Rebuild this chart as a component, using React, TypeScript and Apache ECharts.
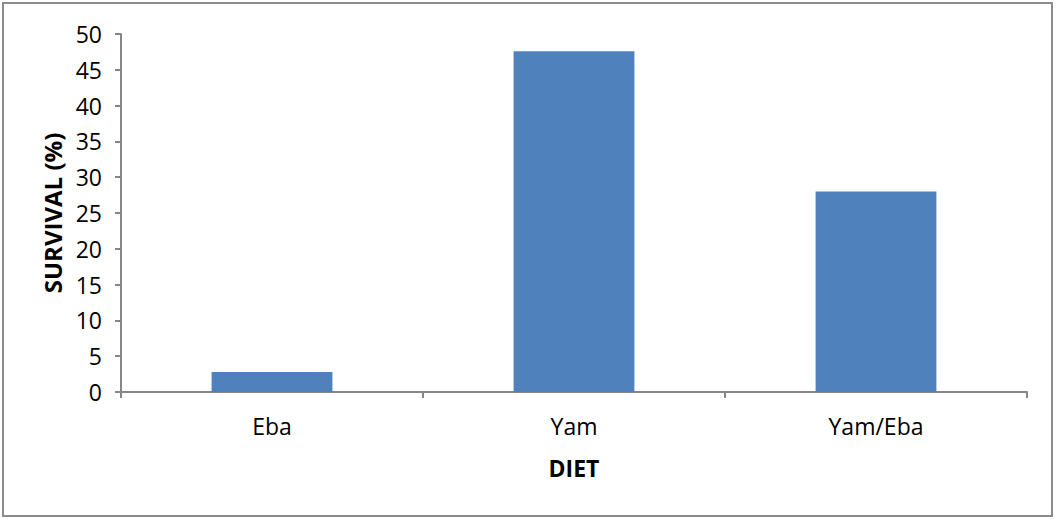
import React, { useEffect, useRef } from "react";
import * as echarts from "echarts";

const categories = ["Eba", "Yam", "Yam/Eba"];
const survival = [2.8, 47.6, 28.0];
const yTicks = { min: 0, max: 50, interval: 5 };
const xTitle = "DIET";
const yTitle = "SURVIVAL (%)";

const FONT = "'Open Sans', sans-serif";
const AXIS_GRAY = "#868686";

export default function App() {
  const ref = useRef<HTMLDivElement>(null);

  useEffect(() => {
    if (!ref.current) return;
    const chart = echarts.init(ref.current, null, { renderer: "svg" });
    chart.setOption({
      animation: false,
      backgroundColor: "#ffffff",
      textStyle: { fontFamily: FONT },
      graphic: [
        {
          type: "rect",
          shape: { x: 3, y: 3, width: 1049, height: 513 },
          style: { fill: "none", stroke: "#8c8c8c", lineWidth: 2 },
          silent: true,
        },
      ],
      grid: { left: 121, right: 29, top: 34, bottom: 127, containLabel: false },
      xAxis: {
        type: "category",
        data: categories,
        name: xTitle,
        nameLocation: "middle",
        nameGap: 64,
        nameTextStyle: { fontFamily: FONT, fontSize: 23, fontWeight: "bold", color: "#000" },
        axisLine: { lineStyle: { color: AXIS_GRAY, width: 2 } },
        axisTick: { show: true, alignWithLabel: false, length: 6, lineStyle: { color: AXIS_GRAY, width: 2 } },
        axisLabel: { fontFamily: FONT, fontSize: 23, color: "#000", margin: 22 },
      },
      yAxis: {
        type: "value",
        min: yTicks.min,
        max: yTicks.max,
        interval: yTicks.interval,
        name: yTitle,
        nameLocation: "middle",
        nameGap: 55,
        nameRotate: 90,
        nameTextStyle: { fontFamily: FONT, fontSize: 24, fontWeight: "bold", color: "#000" },
        axisLine: { show: true, lineStyle: { color: AXIS_GRAY, width: 2 } },
        axisTick: { show: true, length: 6, lineStyle: { color: AXIS_GRAY, width: 2 } },
        axisLabel: { fontFamily: FONT, fontSize: 23, color: "#000", margin: 19 },
        splitLine: { show: false },
      },
      series: [
        {
          type: "bar",
          data: survival,
          barCategoryGap: "60%",
          itemStyle: { color: "#4F81BD" },
        },
      ],
    });
    return () => chart.dispose();
  }, []);

  return (
    <div
      ref={ref}
      style={{ position: "fixed", left: 0, top: 0, width: 1056, height: 519 }}
    />
  );
}
